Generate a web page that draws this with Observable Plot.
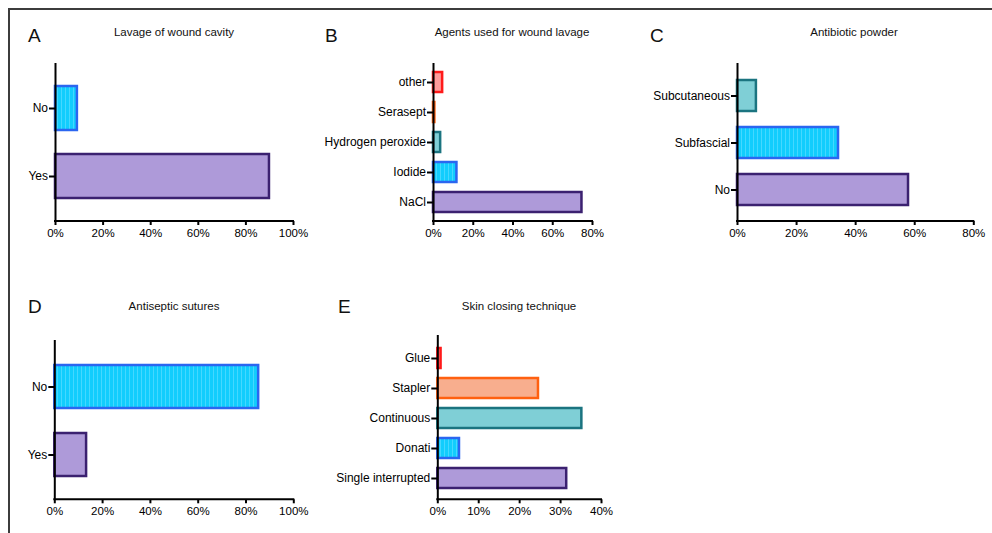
<!DOCTYPE html>
<html>
<head>
<meta charset="utf-8">
<script src="https://cdn.jsdelivr.net/npm/d3@7"></script>
<script src="https://cdn.jsdelivr.net/npm/@observablehq/plot@0.6"></script>
<style>
  body { margin: 0; background: #fff; font-family: "Liberation Sans", Arial, sans-serif; }
  #root { position: relative; width: 992px; height: 533px; overflow: hidden; background: #fff; }
  .frame { position: absolute; left: 8px; top: 8px; width: 1000px; height: 540px;
           border-top: 2px solid #3c3c3c; border-left: 2px solid #3c3c3c; }
  .letter { position: absolute; font-size: 19px; line-height: 19px; color: #111; white-space: nowrap; }
  .title { position: absolute; font-size: 11.5px; line-height: 11.5px; color: #111;
           transform: translateX(-50%); white-space: nowrap; }
  .panel { position: absolute; }
  .panel svg { overflow: visible; }
</style>
</head>
<body>
<svg width="0" height="0" style="position:absolute">
  <defs>
    <pattern id="hatch" patternUnits="userSpaceOnUse" width="4" height="4">
      <rect width="4" height="4" fill="#12cdfd"></rect>
      <rect x="1" width="1" height="4" fill="#45d8ff"></rect>
    </pattern>
  </defs>
</svg>
<div id="root"><div class="frame"></div></div>
<script>
// ---------- data ----------
const catsA = ["No", "Yes"];
const valsA = [9.2, 89.9];
const ticksA = [0, 20, 40, 60, 80, 100];

const catsB = ["other", "Serasept", "Hydrogen peroxide", "Iodide", "NaCl"];
const valsB = [4.6, 0.7, 3.6, 11.8, 74.7];
const ticksB = [0, 20, 40, 60, 80];

const catsC = ["Subcutaneous", "Subfascial", "No"];
const valsC = [6.4, 34.2, 57.9];
const ticksC = [0, 20, 40, 60, 80];

const catsD = ["No", "Yes"];
const valsD = [85.3, 13.3];
const ticksD = [0, 20, 40, 60, 80, 100];

const catsE = ["Glue", "Stapler", "Continuous", "Donati", "Single interrupted"];
const valsE = [0.8, 24.6, 35.2, 5.3, 31.5];
const ticksE = [0, 10, 20, 30, 40];

const letters = ["A", "B", "C", "D", "E"];
const titles = ["Lavage of wound cavity", "Agents used for wound lavage", "Antibiotic powder",
                "Antiseptic sutures", "Skin closing technique"];

// ---------- styles (by rank from the bottom bar) ----------
const FILLS   = ["#ae9ad9", "url(#hatch)", "#7fcfd6", "#f8ae8e", "#ff9a9a"];
const STROKES = ["#3b2170", "#2b66f0", "#1b7480", "#ff6010", "#ff1a1a"];

const root = document.getElementById("root");

function baseline(index, scales, values, dims) {
  const y = dims.height - dims.marginBottom;
  const x0 = dims.marginLeft, x1 = dims.width - dims.marginRight;
  const line = document.createElementNS("http://www.w3.org/2000/svg", "line");
  line.setAttribute("x1", x0 - 1);
  line.setAttribute("x2", x1 + 1);
  line.setAttribute("y1", y);
  line.setAttribute("y2", y);
  line.setAttribute("stroke", "#000");
  line.setAttribute("stroke-width", 2);
  return line;
}

function panel(cfg) {
  const rows = cfg.cats.map((c, i) => ({cat: c, val: cfg.vals[i], rank: cfg.cats.length - 1 - i}));
  const maxT = cfg.ticks[cfg.ticks.length - 1];
  const chart = Plot.plot({
    width: cfg.w, height: cfg.h,
    marginLeft: cfg.ml, marginRight: cfg.mr, marginTop: cfg.mt, marginBottom: cfg.mb,
    style: {fontSize: "12px", fontFamily: "'Liberation Sans', Arial, sans-serif", color: "#000",
            background: "transparent", overflow: "visible"},
    x: {domain: [0, maxT], axis: null},
    y: {domain: cfg.cats, paddingInner: cfg.pad, paddingOuter: cfg.pad / 2,
        insetTop: cfg.it, insetBottom: cfg.ib, axis: null},
    color: {type: "identity"},
    marks: [
      Plot.barX(rows, {x: "val", y: "cat",
        fill: (d) => FILLS[d.rank], stroke: (d) => STROKES[d.rank], strokeWidth: 2.5}),
      Plot.ruleX([0], {stroke: "#000", strokeWidth: 2}),
      baseline,
      Plot.axisY({tickSize: 6, tickPadding: 1.5, strokeWidth: 2, stroke: "#000", label: null, fontSize: 12}),
      Plot.axisX({ticks: cfg.ticks, tickSize: 4, tickPadding: 3, strokeWidth: 2, stroke: "#000",
                  tickFormat: (d) => d + "%", label: null, fontSize: 11.5})
    ]
  });
  const div = document.createElement("div");
  div.className = "panel";
  div.style.left = cfg.left + "px";
  div.style.top = cfg.top + "px";
  div.style.width = cfg.w + "px";
  div.style.height = cfg.h + "px";
  div.appendChild(chart);
  root.appendChild(div);

  const L = document.createElement("div");
  L.className = "letter";
  L.textContent = cfg.letter;
  L.style.left = cfg.lx + "px";
  L.style.top = cfg.ly + "px";
  root.appendChild(L);

  const T = document.createElement("div");
  T.className = "title";
  T.textContent = cfg.title;
  T.style.left = cfg.tx + "px";
  T.style.top = cfg.ty + "px";
  root.appendChild(T);
}

panel({cats: catsA, vals: valsA, ticks: ticksA, letter: letters[0], title: titles[0],
  left: 0, top: 50, w: 320, h: 210, ml: 55, mr: 27, mt: 13, mb: 39, it: 11, ib: 11, pad: 0.35,
  lx: 28, ly: 26, tx: 174, ty: 26.5});
panel({cats: catsB, vals: valsB, ticks: ticksB, letter: letters[1], title: titles[1],
  left: 315, top: 50, w: 305, h: 210, ml: 118, mr: 28, mt: 13, mb: 39, it: 4, ib: 4, pad: 0.33,
  lx: 325, ly: 26, tx: 512, ty: 26.5});
panel({cats: catsC, vals: valsC, ticks: ticksC, letter: letters[2], title: titles[2],
  left: 640, top: 50, w: 350, h: 210, ml: 97, mr: 16.7, mt: 13, mb: 39, it: 8, ib: 7, pad: 0.35,
  lx: 650, ly: 26, tx: 854, ty: 26.5});
panel({cats: catsD, vals: valsD, ticks: ticksD, letter: letters[3], title: titles[3],
  left: 0, top: 327, w: 320, h: 206, ml: 54.3, mr: 26.7, mt: 13, mb: 33.7, it: 12, ib: 11.3, pad: 0.37,
  lx: 28, ly: 297, tx: 174, ty: 301});
panel({cats: catsE, vals: valsE, ticks: ticksE, letter: letters[4], title: titles[4],
  left: 315, top: 327, w: 310, h: 206, ml: 122.3, mr: 24, mt: 8, mb: 33.7, it: 5.6, ib: 4.9, pad: 0.34,
  lx: 338, ly: 297, tx: 519, ty: 300.5});
</script>
</body>
</html>
